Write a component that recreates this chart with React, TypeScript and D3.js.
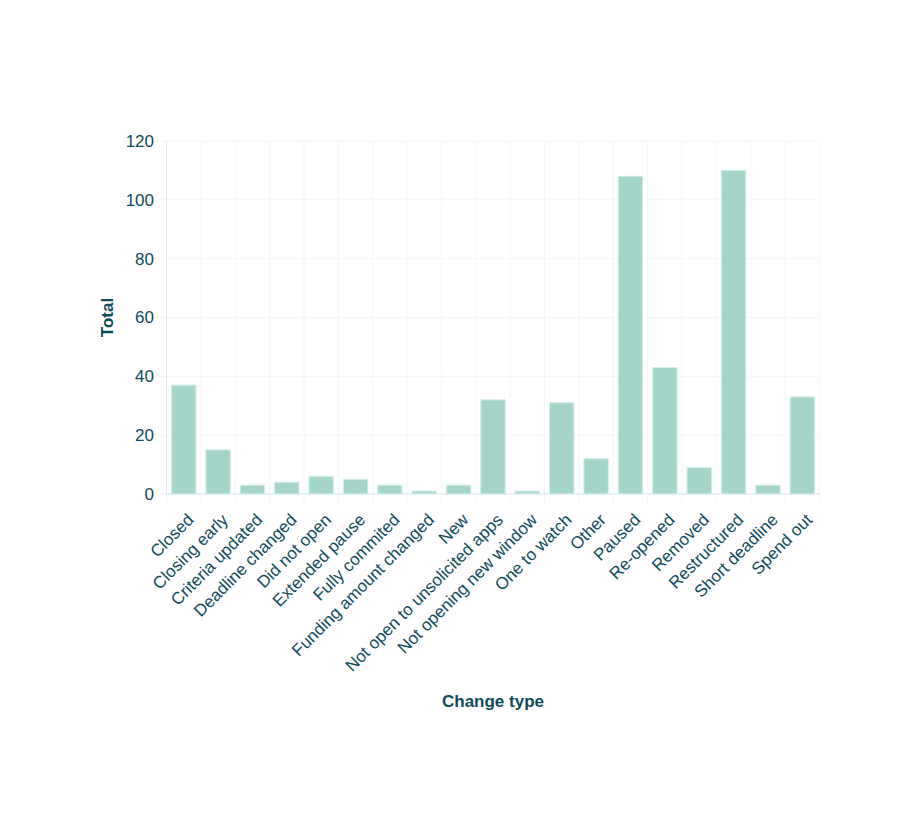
import React, { useEffect, useRef } from "react";
import * as d3 from "d3";

const categories: string[] = [
  "Closed",
  "Closing early",
  "Criteria updated",
  "Deadline changed",
  "Did not open",
  "Extended pause",
  "Fully commited",
  "Funding amount changed",
  "New",
  "Not open to unsolicited apps",
  "Not opening new window",
  "One to watch",
  "Other",
  "Paused",
  "Re-opened",
  "Removed",
  "Restructured",
  "Short deadline",
  "Spend out",
];

const totals: number[] = [37, 15, 3, 4, 6, 5, 3, 1, 3, 32, 1, 31, 12, 108, 43, 9, 110, 3, 33];

const yTicks: number[] = [0, 20, 40, 60, 80, 100, 120];

const xTitle = "Change type";
const yTitle = "Total";

const W = 921;
const H = 815;
const M = { left: 166.5, right: 819.5, top: 141, bottom: 494 };
const TEXT = "#0e4b5b";
const BAR = "#a3d6c9";
const DOMAIN = "#d6ecee";
const GRID = "#f1f7f7";
const FONT = "'Liberation Sans', Arial, Helvetica, sans-serif";
const FS = 17;

export default function App() {
  const ref = useRef<SVGSVGElement | null>(null);

  useEffect(() => {
    const svg = d3.select(ref.current);
    svg.selectAll("*").remove();

    const x = d3
      .scaleBand<string>()
      .domain(categories)
      .range([M.left, M.right])
      .paddingInner(0.29)
      .paddingOuter(0.145);
    const xEdge = d3.scaleLinear().domain([0, categories.length]).range([M.left, M.right]);
    const y = d3.scaleLinear().domain([0, 120]).range([M.bottom, M.top]);

    const g = svg.append("g");

    // horizontal grid
    g.append("g")
      .selectAll("line")
      .data(yTicks)
      .join("line")
      .attr("x1", M.left)
      .attr("x2", M.right)
      .attr("y1", (d) => y(d))
      .attr("y2", (d) => y(d))
      .attr("stroke", GRID)
      .attr("stroke-width", 1);

    // vertical grid at band edges + ticks
    const edges = d3.range(categories.length + 1);
    g.append("g")
      .selectAll("line")
      .data(edges)
      .join("line")
      .attr("x1", (d) => xEdge(d))
      .attr("x2", (d) => xEdge(d))
      .attr("y1", M.top)
      .attr("y2", M.bottom + 10)
      .attr("stroke", GRID)
      .attr("stroke-width", 1);

    // y ticks
    g.append("g")
      .selectAll("line")
      .data(yTicks)
      .join("line")
      .attr("x1", M.left - 10)
      .attr("x2", M.left)
      .attr("y1", (d) => y(d))
      .attr("y2", (d) => y(d))
      .attr("stroke", GRID)
      .attr("stroke-width", 1);

    // bars
    g.append("g")
      .selectAll("rect")
      .data(categories)
      .join("rect")
      .attr("x", (d) => x(d) as number)
      .attr("width", x.bandwidth())
      .attr("y", (_d, i) => y(totals[i]))
      .attr("height", (_d, i) => y(0) - y(totals[i]))
      .attr("fill", BAR)
      .attr("stroke", "#d4ede7")
      .attr("stroke-width", 1);

    // domains
    g.append("line")
      .attr("x1", M.left)
      .attr("x2", M.right)
      .attr("y1", M.bottom)
      .attr("y2", M.bottom)
      .attr("stroke", DOMAIN);
    g.append("line")
      .attr("x1", M.left)
      .attr("x2", M.left)
      .attr("y1", M.top)
      .attr("y2", M.bottom)
      .attr("stroke", DOMAIN);
    g.append("line")
      .attr("x1", M.right)
      .attr("x2", M.right)
      .attr("y1", M.top)
      .attr("y2", M.bottom)
      .attr("stroke", GRID);

    // y labels
    g.append("g")
      .selectAll("text")
      .data(yTicks)
      .join("text")
      .attr("x", M.left - 12.5)
      .attr("y", (d) => y(d))
      .attr("dy", "0.35em")
      .attr("text-anchor", "end")
      .attr("font-family", FONT)
      .attr("font-size", FS)
      .attr("fill", TEXT)
      .text((d) => String(d));

    // x labels
    g.append("g")
      .selectAll("text")
      .data(categories)
      .join("text")
      .attr("transform", (d) => {
        const cx = (x(d) as number) + x.bandwidth() / 2 + 2;
        const cy = M.bottom + 18;
        return `translate(${cx},${cy}) rotate(-45)`;
      })
      .attr("text-anchor", "end")
      .attr("dy", "0.74em")
      .attr("font-family", FONT)
      .attr("font-size", FS)
      .attr("fill", TEXT)
      .text((d) => d);

    // titles
    g.append("text")
      .attr("x", (M.left + M.right) / 2)
      .attr("y", 707)
      .attr("text-anchor", "middle")
      .attr("font-family", FONT)
      .attr("font-size", FS)
      .attr("font-weight", "bold")
      .attr("fill", TEXT)
      .text(xTitle);
    g.append("text")
      .attr("transform", `translate(112.5,${(M.top + M.bottom) / 2}) rotate(-90)`)
      .attr("text-anchor", "middle")
      .attr("font-family", FONT)
      .attr("font-size", FS)
      .attr("font-weight", "bold")
      .attr("fill", TEXT)
      .text(yTitle);
  }, []);

  return (
    <svg
      ref={ref}
      width={W}
      height={H}
      style={{ position: "absolute", left: 0, top: 0, background: "#fff" }}
    />
  );
}
